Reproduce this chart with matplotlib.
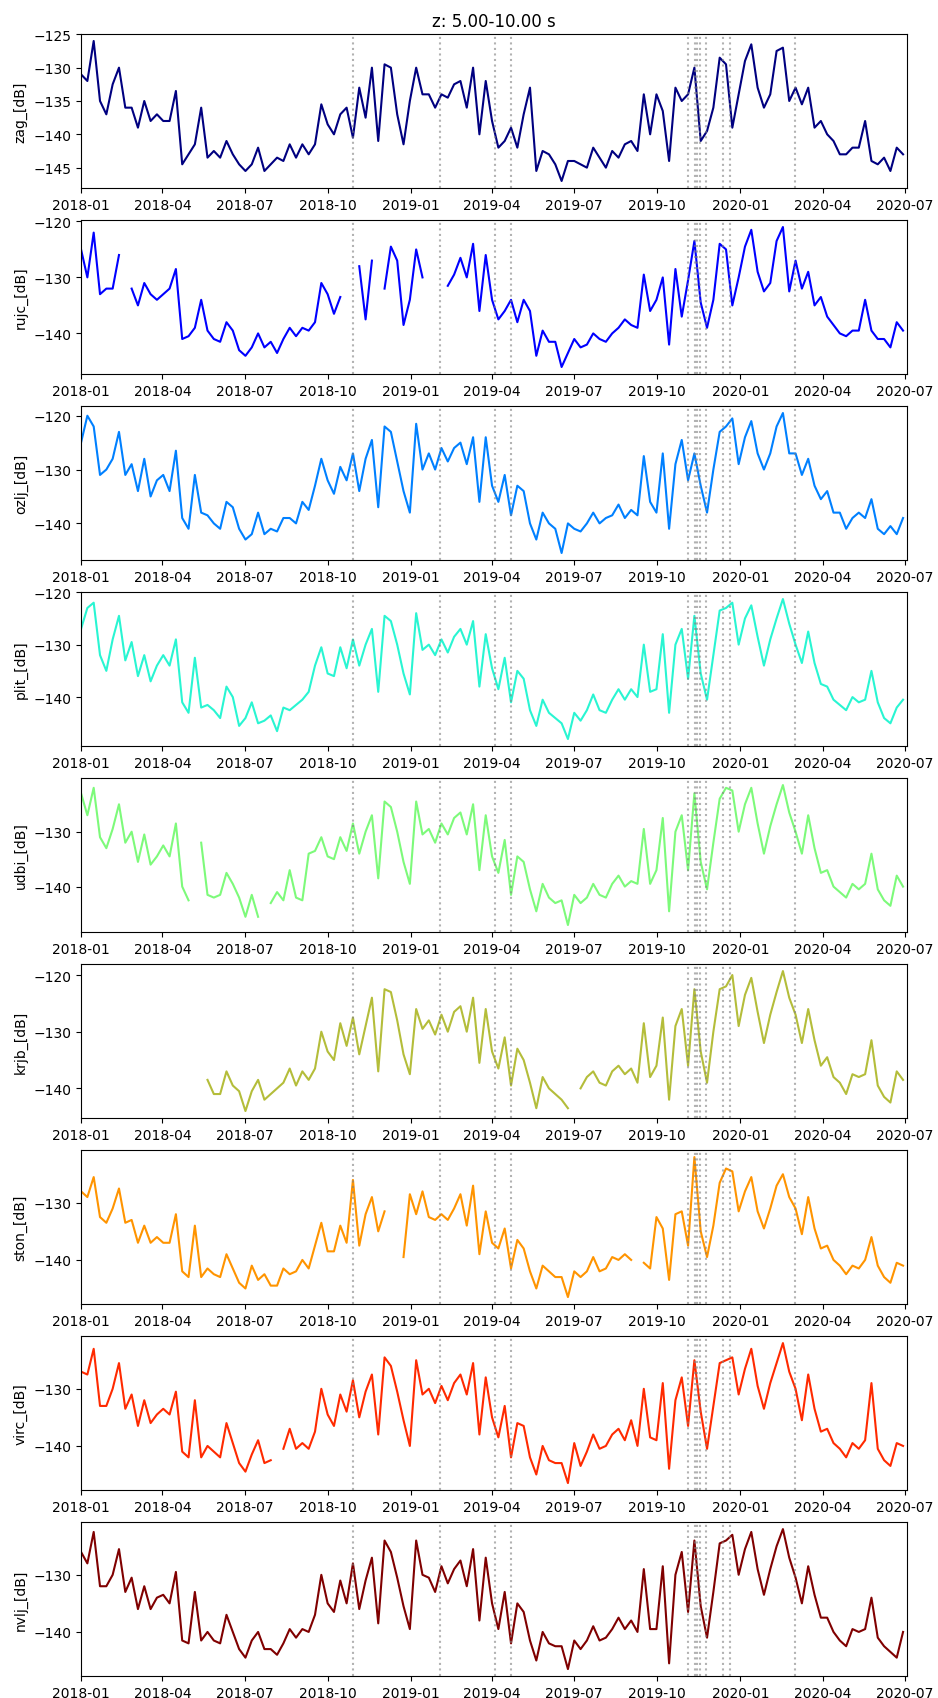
import matplotlib
matplotlib.use('Agg')
import matplotlib.pyplot as plt
import matplotlib.dates as mdates
import numpy as np
import pandas as pd

nan = np.nan

# weekly values, starting 2018-01-01
dates = pd.date_range('2018-01-01', periods=131, freq='7D')

stations = ['zag', 'rujc', 'ozlj', 'plit', 'udbi', 'krjb', 'ston', 'virc', 'nvlj']

zag = [-131, -132, -126, -135, -137, -132.5, -130, -136, -136, -139,
       -135, -138, -137, -138, -138, -133.5, -144.5, -143, -141.5, -136,
       -143.5, -142.5, -143.5, -141, -143, -144.5, -145.5, -144.5, -142, -145.5,
       -144.5, -143.5, -144, -141.5, -143.5, -141.5, -143, -141.5, -135.5, -138.5,
       -140, -137, -136, -140.5, -133, -137.5, -130, -141, -129.5, -130,
       -137, -141.5, -135, -130, -134, -134, -136, -134, -134.5, -132.5,
       -132, -136, -130, -140, -132, -138, -142, -141, -139, -142,
       -137, -133, -145.5, -142.5, -143, -144.5, -147, -144, -144, -144.5,
       -145, -142, -143.5, -145, -142.5, -143.5, -141.5, -141, -142.5, -134,
       -140, -134, -136.5, -144, -133, -135, -134, -130, -141, -139.5,
       -136, -128.5, -129.5, -139, -134, -129, -126.5, -133, -136, -134,
       -127.5, -127, -135, -133, -135.5, -133, -139, -138, -140, -141,
       -143, -143, -142, -142, -138, -144, -144.5, -143.5, -145.5, -142,
       -143]

rujc = [-125, -130, -122, -133, -132, -132, -126, nan, -132, -135,
        -131, -133, -134, -133, -132, -128.5, -141, -140.5, -139, -134,
        -139.5, -141, -141.5, -138, -139.5, -143, -144, -142.5, -140, -142.5,
        -141.5, -143.5, -141, -139, -140.5, -139, -139.5, -138, -131, -133,
        -136.5, -133.5, nan, nan, -128, -137.5, -127, nan, -132, -124.5,
        -127, -138.5, -134, -125, -130, nan, nan, nan, -131.5, -129.5,
        -126.5, -130, -124, -136, -126, -134, -137.5, -136, -134, -138,
        -134, -136, -144, -139.5, -141.5, -141.5, -146, -143.5, -141, -142.5,
        -142, -140, -141, -141.5, -140, -139, -137.5, -138.5, -139, -129.5,
        -136, -134, -130, -142, -128.5, -137, -130.5, -123.5, -134.5, -139,
        -134, -124, -125, -135, -130, -124.5, -121.5, -129, -132.5, -131,
        -123.5, -121, -132.5, -127, -132, -129, -135, -133.5, -137, -138.5,
        -140, -140.5, -139.5, -139.5, -134, -139.5, -141, -141, -142.5, -138,
        -139.5]

ozlj = [-125, -120, -122, -131, -130, -128, -123, -131, -129, -134,
        -128, -135, -132, -131, -134, -126.5, -139, -141, -131, -138,
        -138.5, -140, -141, -136, -137, -141, -143, -142, -138, -142,
        -141, -141.5, -139, -139, -140, -136, -137.5, -133, -128, -132,
        -134.5, -129.5, -132, -127, -134, -128, -124.5, -137, -122, -123,
        -128.5, -134, -138, -121.5, -130, -127, -130, -126, -128.5, -126,
        -125, -129, -124, -136, -124, -133, -136, -131, -138.5, -133,
        -134, -140, -143, -138, -140, -141, -145.5, -140, -141, -141.5,
        -140, -138, -140, -139, -138.5, -136.5, -139, -137.5, -138.5, -127.5,
        -136, -138, -127, -141, -129, -124.5, -132, -127, -133, -138,
        -130, -123, -122, -120.5, -129, -124, -121, -127, -130, -127,
        -122, -119.5, -127, -127, -131, -128, -133, -135.5, -134, -138,
        -138, -141, -139, -138, -139, -135.5, -141, -142, -140.5, -142,
        -139]

plit = [-127, -123, -122, -132, -135, -129, -124.5, -133, -129.5, -136,
        -132, -137, -134, -132, -134, -129, -141, -143, -132.5, -142,
        -141.5, -142.5, -144, -138, -140, -145.5, -144, -141, -145, -144.5,
        -143.5, -146.5, -142, -142.5, -141.5, -140.5, -139, -134, -130.5, -135.5,
        -136, -130.5, -134.5, -129, -134, -130, -127, -139, -124.5, -125.5,
        -130, -135.5, -139.5, -124, -131, -130, -132, -129, -131.5, -128.5,
        -127, -130, -125.5, -138, -128, -134.5, -138.5, -132.5, -141, -135,
        -136.5, -142.5, -145.5, -140.5, -143, -144, -145, -148, -143, -144.5,
        -142.5, -139.5, -142.5, -143, -140.5, -138.5, -140.5, -138.5, -140, -130,
        -139, -138.5, -128, -143, -130, -127, -136.5, -124.5, -135.5, -140.5,
        -132, -123.5, -123, -122, -130, -125, -122.5, -128.5, -134, -129,
        -125, -121.3, -126, -130, -133.5, -127.5, -133.5, -137.5, -138, -140.5,
        -141.5, -142.5, -140, -141, -140.5, -135, -141, -144, -145, -142,
        -140.5]

udbi = [-123, -127, -122, -131, -133, -129.5, -125, -132, -130, -135.5,
        -130.5, -136, -134.5, -132.5, -134.5, -128.5, -140, -142.5, nan, -132,
        -141.5, -142, -141.5, -137.5, -139.5, -142, -145.5, -141.5, -145.5, nan,
        -143, -141, -142.5, -137, -142, -142.5, -134, -133.5, -131, -134.5,
        -135, -131, -133.5, -128.5, -134, -130, -127, -138.5, -124.5, -125.5,
        -130, -135.5, -139.5, -124.5, -130.5, -129.5, -132, -128.5, -130.5, -127.5,
        -126.5, -130.5, -125, -137, -127, -134.5, -137.5, -131.5, -141.5, -134.5,
        -135.5, -140.5, -144.5, -139.5, -142, -143, -142.5, -147, -141.5, -143,
        -142, -139.5, -141.5, -142, -139.5, -138, -140, -139, -139.5, -129.5,
        -139.5, -137, -127.5, -144.5, -130, -127, -137, -123, -135.5, -140.5,
        -132, -124, -122, -122.5, -130, -125, -122, -128.5, -134, -129,
        -125, -121.5, -126.5, -130, -134, -127, -133, -137.5, -137, -140,
        -141, -142, -139.5, -140.5, -139.5, -134, -140.5, -142.5, -143.5, -138,
        -140]

krjb = [nan] * 20 + [
        -138.5, -141, -141, -137, -139.5, -140.5, -144, -140.5, -138.5, -142,
        -141, -140, -139, -136.5, -139.5, -137, -138.5, -136.5, -130, -133.5,
        -135, -128.5, -132.5, -127.5, -134, -129, -124, -137, -122.5, -123,
        -128, -134, -137.5, -126, -129.5, -128, -130.5, -127, -130, -126.5,
        -125.5, -130, -124, -135.5, -126, -133.5, -136.5, -131, -139.5, -133,
        -135, -139, -143.5, -138, -140, -141, -142, -143.5, nan, -140,
        -138, -137, -139, -139.5, -137, -136, -137.5, -136.5, -139, -128.5,
        -138, -136, -127.5, -142, -129, -126, -136, -122.5, -133.5, -139,
        -130, -122.5, -122, -120, -129, -123.5, -120.5, -126.5, -132, -127,
        -123, -119.3, -124, -127, -132, -126, -131.5, -136, -134.5, -138,
        -139, -141, -137.5, -138, -137.5, -131.5, -139.5, -141.5, -142.5, -137,
        -138.5]

ston = [-128, -129, -125.5, -132.5, -133.5, -131, -127.5, -133.5, -133, -137,
        -134, -137, -136, -137, -137, -132, -142, -143, -134, -143,
        -141.5, -142.5, -143, -139, -141.5, -144, -145, -141, -143.5, -142.5,
        -144.5, -144.5, -141.5, -142.5, -142, -140, -141.5, -137.5, -133.5, -138.5,
        -138.5, -134, -137, -126, -137.5, -132, -129, -135, -131.5, nan,
        nan, -139.5, -128.5, -132, -128, -132.5, -133, -132, -133, -131,
        -128.5, -134, -127, -139, -131.5, -137, -138, -134.5, -141.5, -136.5,
        -138, -142, -145, -141, -142, -143, -143, -146.5, -142, -143,
        -142, -139.5, -142, -141.5, -139.5, -140, -139, -140, nan, -140.5,
        -141.5, -132.5, -134.5, -143.5, -132, -131.5, -137.5, -122, -135, -139.5,
        -134, -126.5, -124, -124.5, -131.5, -128, -125.5, -131.5, -134.5, -131,
        -127, -125, -129, -131, -135.5, -129, -134.5, -138, -137.5, -140,
        -141, -142.5, -141, -141.5, -140, -136, -141, -143, -144, -140.5,
        -141]

virc = [-127, -127.5, -123, -133, -133, -130, -125.5, -133.5, -131, -136.5,
        -132, -136, -134.5, -133.5, -134.5, -130.5, -141, -142, -132, -142,
        -140, -141, -142, -136, -139.5, -143, -144.5, -141.5, -139, -143,
        -142.5, nan, -140.5, -137, -140.5, -139.5, -140.5, -137.5, -130, -134.5,
        -136.5, -131, -134, -128.5, -135, -130.5, -127.5, -138, -124.5, -126,
        -130.5, -135.5, -140, -125, -131, -130, -132.5, -129.5, -132, -129,
        -127.5, -131, -125.5, -138, -128, -135, -138.5, -133, -142, -136,
        -136.5, -142, -145, -140, -142.5, -143, -143, -146.5, -139.5, -143.5,
        -141, -138, -140.5, -140, -138, -137, -139, -135.5, -140, -130,
        -138.5, -139, -129, -144, -132, -128, -136.5, -125, -134, -140.5,
        -133, -125.5, -125, -124.5, -131, -126.5, -123, -129.5, -133.5, -129,
        -125.5, -122, -127, -130, -135.5, -127.5, -133.5, -137.5, -137, -139.5,
        -140.5, -142, -139.5, -140.5, -139, -129, -140.5, -142.5, -143.5, -139.5,
        -140]

nvlj = [-126, -128, -122.5, -132, -132, -130, -125.5, -133, -130.5, -136,
        -132, -136, -134, -133.5, -135, -129.5, -141.5, -142, -133, -141.5,
        -140, -141.5, -142, -137, -140, -143, -144.5, -141.5, -140, -143,
        -143, -144, -142, -139.5, -141, -139.5, -140, -137, -130, -135,
        -136.5, -131, -135, -128, -136, -131, -127, -138.5, -124, -126,
        -130.5, -135.5, -139.5, -124, -130, -130.5, -133, -128.5, -131.5, -129,
        -127.5, -132, -125.5, -138, -127, -135, -139.5, -133, -142, -135,
        -136.5, -141.5, -145, -140, -142, -142.5, -142.5, -146.5, -141.5, -143,
        -141.5, -139, -141.5, -141, -139.5, -137.5, -139.5, -138, -140, -129,
        -139.5, -139.5, -128.5, -145.5, -130, -126, -136.5, -124, -135.5, -141,
        -133, -124.5, -124, -123, -130, -125.5, -122.5, -129, -133.5, -129,
        -125, -122, -127, -130.5, -135, -128.5, -133.5, -137.5, -137.5, -140,
        -141.5, -142.5, -139.5, -140, -139.5, -134, -141, -142.5, -143.5, -144.5,
        -140]

series = [zag, rujc, ozlj, plit, udbi, krjb, ston, virc, nvlj]

# event dates (dotted lines)
events = ['2018-10-29', '2019-02-02', '2019-04-04', '2019-04-22',
          '2019-11-04', '2019-11-12', '2019-11-14', '2019-11-17',
          '2019-11-24', '2019-12-13', '2019-12-20', '2020-03-01']

colors = ['#000080', '#0000ff', '#0080ff', '#29f5d2', '#7dfa7a',
          '#b4bd3a', '#ff9400', '#ff2a00', '#800000']

fig, axes = plt.subplots(len(stations), 1, figsize=(9.38, 16.99))
fig.subplots_adjust(left=0.0864, right=0.9666, top=0.9794, bottom=0.0129, hspace=0.208)

for ax, name, vals, c in zip(axes, stations, series, colors):
    ax.plot(dates, vals, color=c, lw=1.5)
    for ev in events:
        ax.axvline(pd.Timestamp(ev), color='gray', ls=':', lw=1.5, alpha=0.6)
    ax.set_ylabel(name + '_[dB]')
    ax.set_xlim(pd.Timestamp('2018-01-01'), pd.Timestamp('2020-07-03'))
    ax.xaxis.set_major_locator(mdates.MonthLocator(bymonth=[1, 4, 7, 10]))
    ax.xaxis.set_major_formatter(mdates.DateFormatter('%Y-%m'))

axes[0].set_title('z: 5.00-10.00 s')

fig.savefig('out.png', dpi=100)
